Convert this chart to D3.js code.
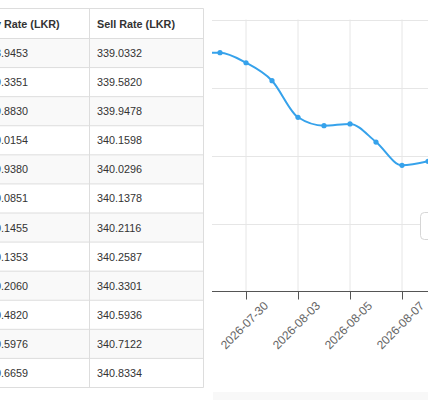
<!DOCTYPE html>
<html>
<head>
<meta charset="utf-8">
<script src="https://cdn.jsdelivr.net/npm/d3@7"></script>
<style>
body { margin: 0; background: #fff; overflow: hidden; }
svg { display: block; font-family: "Liberation Sans", Arial, Helvetica, sans-serif; }
</style>
</head>
<body>
<svg id="page" width="428" height="400"></svg>
<script>
// table rows, newest first
var buyRates = ['328.9453', '329.3351', '329.8830', '330.0154', '329.9380', '330.0851',
                '330.1455', '330.1353', '330.2060', '330.4820', '330.5976', '330.6659'];
var sellRates = ['339.0332', '339.5820', '339.9478', '340.1598', '340.0296', '340.1378',
                 '340.2116', '340.2587', '340.3301', '340.5936', '340.7122', '340.8334'];
var headers = ['Buy Rate (LKR)', 'Sell Rate (LKR)'];

// chart series (business days)
var chartDates = ['2026-07-28', '2026-07-29', '2026-07-30', '2026-07-31', '2026-08-03',
                  '2026-08-04', '2026-08-05', '2026-08-06', '2026-08-07', '2026-08-10'];
var chartValues = [330.75, 330.756, 330.682, 330.550, 330.281, 330.219, 330.232,
                   330.099, 329.928, 329.957];
var labelDates = ['2026-07-30', '2026-08-03', '2026-08-05', '2026-08-07'];
var yTicks = [329, 329.5, 330, 330.5, 331];

var svg = d3.select('#page');

// ---------- table ----------
var tbl = {left: -25, split: 89.5, right: 203.5, top: 8.5, head: 38.5, bottom: 387.5};
var rowScale = d3.scaleBand().domain(d3.range(sellRates.length)).range([tbl.head, tbl.bottom]);
var table = svg.append('g').attr('class', 'table');

var rows = table.selectAll('g.row').data(sellRates).enter().append('g')
    .attr('class', 'row')
    .attr('transform', function(d, i) { return 'translate(0,' + rowScale(i) + ')'; });

rows.append('rect')
    .attr('x', tbl.left).attr('width', tbl.right - tbl.left)
    .attr('height', rowScale.bandwidth())
    .style('fill', function(d, i) { return i % 2 === 0 ? '#f9f9f9' : '#fff'; });

rows.append('line')
    .attr('x1', tbl.left).attr('x2', tbl.right)
    .attr('y1', 0).attr('y2', 0)
    .style('stroke', '#dddddd');

rows.append('text')
    .attr('x', -17).attr('y', rowScale.bandwidth() / 2)
    .attr('dominant-baseline', 'central')
    .style('font-size', '10.8px').style('fill', '#333')
    .text(function(d, i) { return buyRates[i]; });

rows.append('text')
    .attr('x', 97).attr('y', rowScale.bandwidth() / 2)
    .attr('dominant-baseline', 'central')
    .style('font-size', '10.8px').style('fill', '#333')
    .text(function(d) { return d; });

// header
table.selectAll('text.head').data(headers).enter().append('text')
    .attr('class', 'head')
    .attr('x', function(d, i) { return i === 0 ? -19.5 : 97; })
    .attr('y', (tbl.top + tbl.head) / 2)
    .attr('dominant-baseline', 'central')
    .style('font-size', '10.8px').style('font-weight', 'bold').style('fill', '#333')
    .text(function(d) { return d; });

// borders
table.append('line').attr('x1', tbl.left).attr('x2', tbl.right)
    .attr('y1', tbl.top).attr('y2', tbl.top).style('stroke', '#dddddd');
table.append('line').attr('x1', tbl.left).attr('x2', tbl.right)
    .attr('y1', tbl.bottom).attr('y2', tbl.bottom).style('stroke', '#dddddd');
[tbl.split, tbl.right].forEach(function(xv) {
    table.append('line').attr('x1', xv).attr('x2', xv)
        .attr('y1', tbl.top).attr('y2', tbl.bottom).style('stroke', '#dddddd');
});

// ---------- chart ----------
var plot = {left: 212, right: 440, top: 19.5, bottom: 291.5},
    step = 26;

var xScale = d3.scalePoint().domain(chartDates)
    .range([plot.left - 18, plot.left - 18 + step * (chartDates.length - 1)]);
var yScale = d3.scaleLinear().domain([yTicks[0], yTicks[yTicks.length - 1]])
    .range([plot.bottom, plot.top]);

var chart = svg.append('g').attr('class', 'chart');

svg.append('defs').append('clipPath').attr('id', 'plot-clip')
    .append('rect')
    .attr('x', plot.left).attr('y', 0)
    .attr('width', plot.right - plot.left).attr('height', plot.bottom + 5);

// grid
chart.selectAll('line.hgrid').data(yTicks.slice(1)).enter().append('line')
    .attr('class', 'hgrid')
    .attr('x1', plot.left).attr('x2', plot.right)
    .attr('y1', function(d) { return Math.round(yScale(d)) + 0.5; })
    .attr('y2', function(d) { return Math.round(yScale(d)) + 0.5; })
    .style('stroke', '#e6e6e6');

chart.selectAll('line.vgrid').data(labelDates).enter().append('line')
    .attr('class', 'vgrid')
    .attr('x1', function(d) { return xScale(d); })
    .attr('x2', function(d) { return xScale(d); })
    .attr('y1', plot.top).attr('y2', plot.bottom)
    .style('stroke', '#e6e6e6');

// x axis
var xAxis = d3.axisBottom(xScale).tickValues(labelDates).tickSize(8).tickSizeOuter(0);
var axisG = chart.append('g')
    .attr('class', 'x axis')
    .attr('transform', 'translate(0,' + plot.bottom + ')')
    .call(xAxis);
axisG.select('.domain').remove();
axisG.selectAll('.tick line').style('stroke', '#555');
axisG.selectAll('.tick text')
    .attr('x', null).attr('y', null).attr('dy', null)
    .attr('transform', 'translate(-2,34) rotate(-45)')
    .attr('text-anchor', 'middle')
    .attr('dominant-baseline', 'central')
    .style('font-size', '12px')
    .style('font-family', '"Liberation Sans", Arial, Helvetica, sans-serif')
    .style('fill', '#666');
chart.append('line')
    .attr('x1', plot.left).attr('x2', plot.right)
    .attr('y1', plot.bottom).attr('y2', plot.bottom)
    .style('stroke', '#555');

// series
var series = chart.append('g').attr('clip-path', 'url(#plot-clip)');
var line = d3.line()
    .x(function(d, i) { return xScale(chartDates[i]); })
    .y(function(d) { return yScale(d); })
    .curve(d3.curveMonotoneX);

series.append('path')
    .datum(chartValues)
    .attr('d', line)
    .style('fill', 'none')
    .style('stroke', '#36a2eb')
    .style('stroke-width', '2px');

series.selectAll('circle.dot').data(chartValues).enter().append('circle')
    .attr('class', 'dot')
    .attr('r', 2.6)
    .attr('cx', function(d, i) { return xScale(chartDates[i]); })
    .attr('cy', function(d) { return yScale(d); })
    .style('fill', '#36a2eb');

// tooltip box peeking in at the right edge
chart.append('rect')
    .attr('x', 420.5).attr('y', 212.5)
    .attr('width', 40).attr('height', 27).attr('rx', 4)
    .style('fill', '#fff')
    .style('stroke', '#d6d6d6');

// footer strip
chart.append('rect')
    .attr('x', 213).attr('y', 392)
    .attr('width', 215).attr('height', 8)
    .style('fill', '#f8f8f8');
</script>
</body>
</html>
